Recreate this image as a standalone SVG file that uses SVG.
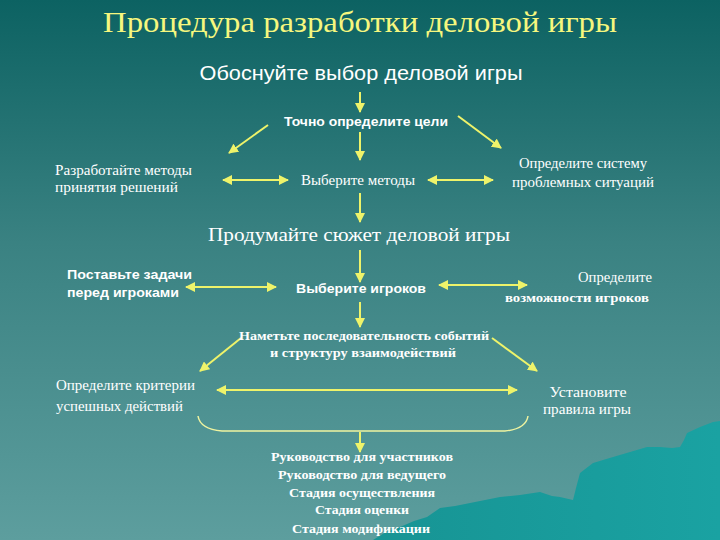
<svg xmlns="http://www.w3.org/2000/svg" width="720" height="540" viewBox="0 0 720 540">
<defs>
<linearGradient id="bg" x1="0" y1="0" x2="0" y2="1">
<stop offset="0" stop-color="#0c6262"/>
<stop offset="0.45" stop-color="#3a8282"/>
<stop offset="1" stop-color="#5d9e9e"/>
</linearGradient>
<linearGradient id="mt" x1="0" y1="0" x2="1" y2="0">
<stop offset="0" stop-color="#179494"/>
<stop offset="1" stop-color="#1aa2a2"/>
</linearGradient>
<marker id="ah" viewBox="0 0 10 10" refX="9" refY="5" markerWidth="5" markerHeight="5" orient="auto-start-reverse" markerUnits="strokeWidth">
<path d="M0,0 L10,5 L0,10 z" fill="#eef36a"/>
</marker>
<style>
.ln{stroke:#eef36a;stroke-width:2;fill:none}
.one{marker-end:url(#ah)}
.two{marker-start:url(#ah);marker-end:url(#ah)}
.serif{font-family:"Liberation Serif","DejaVu Serif",serif;fill:#ffffff}
.sans{font-family:"Liberation Sans","DejaVu Sans",sans-serif;fill:#ffffff}
.b{font-weight:bold}
</style>
</defs>
<rect x="0" y="0" width="720" height="540" fill="url(#bg)"/>
<path d="M373,540 L386,532 L400,527 L414,521 L427,517 L440,508 L455,506 L470,503 L485,500 L500,497 L520,495 L540,492 L552,496 L560,497 L573,500 L576,488 L580,473 L593,463 L603,460 L613,457 L630,452 L647,447 L660,447 L672,448 L680,447 L684,440 L687,433 L700,427 L713,422 L720,421 L720,540 Z" fill="url(#mt)"/>

<text x="360" y="32" text-anchor="middle" font-family="Liberation Serif, DejaVu Serif, serif" font-size="30" fill="#f6f77e" textLength="514" lengthAdjust="spacingAndGlyphs">Процедура разработки деловой игры</text>

<g id="connectors">
<line class="ln one" x1="360" y1="92" x2="360" y2="112"/>
<line class="ln one" x1="268" y1="125" x2="229" y2="153"/>
<line class="ln one" x1="458" y1="116" x2="501" y2="148"/>
<line class="ln one" x1="360" y1="132" x2="360" y2="160"/>
<line class="ln two" x1="223" y1="180" x2="288" y2="180"/>
<line class="ln two" x1="428" y1="180" x2="493" y2="180"/>
<line class="ln one" x1="360" y1="193" x2="360" y2="222"/>
<line class="ln one" x1="360" y1="250" x2="360" y2="282"/>
<line class="ln two" x1="186" y1="287" x2="276" y2="287"/>
<line class="ln two" x1="439" y1="285" x2="527" y2="285"/>
<line class="ln one" x1="360" y1="302" x2="360" y2="327"/>
<line class="ln one" x1="241" y1="338" x2="200" y2="371"/>
<line class="ln one" x1="492" y1="338" x2="537" y2="371"/>
<line class="ln two" x1="217" y1="390" x2="517" y2="390"/>
<path d="M198,416 Q200,429 222,431 L505,431 Q526,429 528,416" stroke="#eef3a0" stroke-width="1.5" fill="none"/>
<line class="ln one" x1="360" y1="432" x2="360" y2="452"/>
</g>

<g id="n1"><text class="sans" x="361" y="80" font-size="20" text-anchor="middle" textLength="323" lengthAdjust="spacingAndGlyphs">Обоснуйте выбор деловой игры</text></g>
<g id="n2"><text class="sans b" x="366" y="126" font-size="12.5" text-anchor="middle" textLength="164" lengthAdjust="spacingAndGlyphs">Точно определите цели</text></g>
<g id="n3"><text class="serif" x="55" y="175" font-size="14" textLength="137" lengthAdjust="spacingAndGlyphs">Разработайте методы</text><text class="serif" x="55" y="192" font-size="14" textLength="123" lengthAdjust="spacingAndGlyphs">принятия решений</text></g>
<g id="n4"><text class="serif" x="358" y="185" font-size="14" text-anchor="middle" textLength="114" lengthAdjust="spacingAndGlyphs">Выберите методы</text></g>
<g id="n5"><text class="serif" x="583" y="168" font-size="14" text-anchor="middle" textLength="128" lengthAdjust="spacingAndGlyphs">Определите систему</text><text class="serif" x="583" y="187" font-size="14" text-anchor="middle" textLength="142" lengthAdjust="spacingAndGlyphs">проблемных ситуаций</text></g>
<g id="n6"><text class="serif" x="359" y="241" font-size="19" text-anchor="middle" textLength="302" lengthAdjust="spacingAndGlyphs">Продумайте сюжет деловой игры</text></g>
<g id="n7"><text class="sans b" x="67" y="279" font-size="13" textLength="125" lengthAdjust="spacingAndGlyphs">Поставьте задачи</text><text class="sans b" x="67" y="297" font-size="13" textLength="112" lengthAdjust="spacingAndGlyphs">перед игроками</text></g>
<g id="n8"><text class="sans b" x="361" y="293" font-size="13" text-anchor="middle" textLength="130" lengthAdjust="spacingAndGlyphs">Выберите игроков</text></g>
<g id="n9"><text class="serif" x="652" y="282" font-size="14" text-anchor="end" textLength="74" lengthAdjust="spacingAndGlyphs">Определите</text><text class="serif b" x="577" y="302" font-size="13" text-anchor="middle" textLength="144" lengthAdjust="spacingAndGlyphs">возможности  игроков</text></g>
<g id="n10"><text class="serif b" x="364" y="340" font-size="13" text-anchor="middle" textLength="250" lengthAdjust="spacingAndGlyphs">Наметьте последовательность событий</text><text class="serif b" x="363" y="357" font-size="13" text-anchor="middle" textLength="186" lengthAdjust="spacingAndGlyphs">и структуру взаимодействий</text></g>
<g id="n11"><text class="serif" x="56" y="390" font-size="14" textLength="139" lengthAdjust="spacingAndGlyphs">Определите критерии</text><text class="serif" x="56" y="411" font-size="14" textLength="127" lengthAdjust="spacingAndGlyphs">успешных действий</text></g>
<g id="n12"><text class="serif" x="588" y="397" font-size="14" text-anchor="middle" textLength="77" lengthAdjust="spacingAndGlyphs">Установите</text><text class="serif" x="587" y="414" font-size="14" text-anchor="middle" textLength="88" lengthAdjust="spacingAndGlyphs">правила игры</text></g>
<g id="n13">
<text class="serif b" x="362" y="461" font-size="13" text-anchor="middle" textLength="182" lengthAdjust="spacingAndGlyphs">Руководство для участников</text>
<text class="serif b" x="362" y="479" font-size="13" text-anchor="middle" textLength="168" lengthAdjust="spacingAndGlyphs">Руководство для ведущего</text>
<text class="serif b" x="362" y="497" font-size="13" text-anchor="middle" textLength="146" lengthAdjust="spacingAndGlyphs">Стадия осуществления</text>
<text class="serif b" x="362" y="514" font-size="13" text-anchor="middle" textLength="94" lengthAdjust="spacingAndGlyphs">Стадия оценки</text>
<text class="serif b" x="361" y="533" font-size="13" text-anchor="middle" textLength="138" lengthAdjust="spacingAndGlyphs">Стадия модификации</text>
</g>
</svg>
